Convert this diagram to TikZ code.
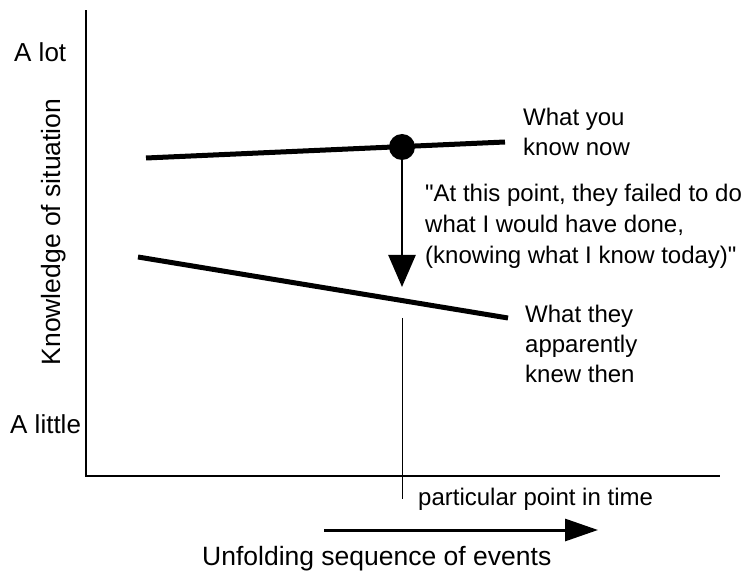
\documentclass[tikz,border=0pt]{standalone}
\usepackage{fontspec}
\setmainfont{Liberation Sans}[Ligatures=TeXOff]
\usetikzlibrary{arrows.meta}
\begin{document}
\begin{tikzpicture}[x=1pt,y=-1pt,
  lbl/.style={font=\fontsize{24}{30}\selectfont, inner sep=0pt, align=left},
  biglbl/.style={font=\fontsize{26}{30}\selectfont, inner sep=0pt},
  axisline/.style={line width=2.5pt, line cap=rect},
  dataline/.style={line width=5pt},
  pointer/.style={line width=2.5pt, -{Triangle[length=32pt,width=27pt]}},
  timearrow/.style={line width=3pt, -{Triangle[length=33pt,width=22pt]}},
  marker/.style={line width=0.8pt},
  dot/.style={circle, fill=black, minimum size=26pt, inner sep=0pt}
]
\useasboundingbox (0,0) rectangle (745,572);
% axes
\coordinate (ytop) at (86,11);
\coordinate (origin) at (86,476);
\coordinate (xend) at (719,476);
\draw[axisline] (ytop) -- (origin) -- (xend);
% upper line: what you know now
\coordinate (u1) at (146,158);
\coordinate (u2) at (505,142);
\draw[dataline] (u1) -- (u2);
\node[dot] (now) at (402,147) {};
% lower line: what they knew then
\coordinate (l1) at (138,257);
\coordinate (l2) at (508,318);
\draw[dataline] (l1) -- (l2);
% arrow down
\coordinate (tip) at (402,287);
\draw[pointer] (now.center) -- (tip);
% marker of the particular point in time
\coordinate (m1) at (402,318);
\coordinate (m2) at (402,499);
\draw[marker] (m1) -- (m2);
% time arrow
\coordinate (t1) at (324,530);
\coordinate (t2) at (598,530);
\draw[timearrow] (t1) -- (t2);
% labels
\node[lbl, anchor=north west] (knownow) at (523,108) {What you\\know now};
\node[lbl, anchor=north west, font=\fontsize{24}{31}\selectfont] (quote) at (425,184) {"At this point, they failed to do\\what I would have done,\\(knowing what I know today)"};
\node[lbl, anchor=north west] (knewthen) at (525,305) {What they\\apparently\\knew then};
\node[lbl, anchor=base west] (ppt) at (418,505) {particular point in time};
\node[biglbl, anchor=base west, font=\fontsize{26.5}{30}\selectfont] (events) at (202,565) {Unfolding sequence of events};
\node[biglbl, anchor=base west] (alot) at (14,62) {A lot};
\node[biglbl, anchor=base west] (alittle) at (10,433) {A little};
\node[biglbl, rotate=90, font=\fontsize{26.5}{30}\selectfont] (know) at (54,232) {Knowledge of situation};
\end{tikzpicture}
\end{document}
